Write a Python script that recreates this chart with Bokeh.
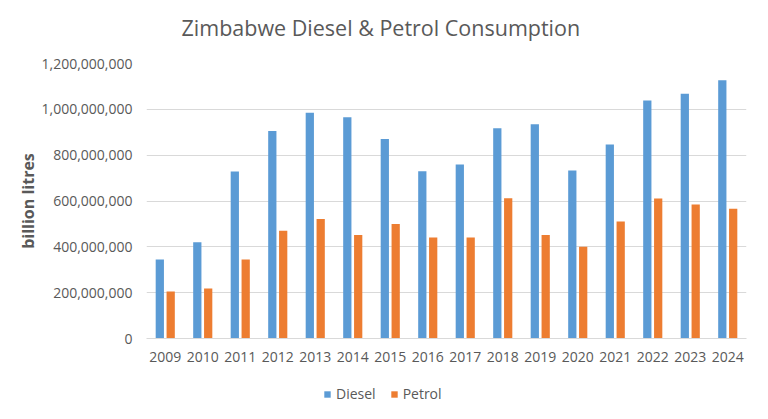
from bokeh.plotting import figure
from bokeh.layouts import column
from bokeh.models import ColumnDataSource, FactorRange, FixedTicker, NumeralTickFormatter, Legend, LegendItem, Range1d
from bokeh.transform import dodge
from bokeh.embed import file_html
from bokeh.resources import INLINE

years = ["2009", "2010", "2011", "2012", "2013", "2014", "2015", "2016",
         "2017", "2018", "2019", "2020", "2021", "2022", "2023", "2024"]
diesel = [345e6, 420e6, 729e6, 905e6, 985e6, 966e6, 871e6, 730e6,
          759e6, 918e6, 935e6, 733e6, 847e6, 1039e6, 1068e6, 1127e6]
petrol = [205e6, 218e6, 345e6, 470e6, 521e6, 452e6, 500e6, 441e6,
          441e6, 612e6, 452e6, 400e6, 511e6, 611e6, 585e6, 566e6]
y_ticks = [0, 200e6, 400e6, 600e6, 800e6, 1000e6, 1200e6]

FONT = "Open Sans"
GRAY = "#595959"
BLUE = "#5B9BD5"
ORANGE = "#ED7D31"


def strip(height, top=0):
    f = figure(width=752, height=height, output_backend="svg", toolbar_location=None,
               x_range=Range1d(0, 1), y_range=Range1d(0, 1),
               x_axis_location=None, y_axis_location=None,
               min_border_left=0, min_border_right=0, min_border_top=top, min_border_bottom=0)
    f.outline_line_color = None
    f.xgrid.grid_line_color = None
    f.ygrid.grid_line_color = None
    f.border_fill_color = "white"
    return f


# title strip
tf = strip(47, top=45)
tf.title.text = "Zimbabwe Diesel & Petrol Consumption"
tf.title.align = "left"
tf.title.offset = 35
tf.title.standoff = 8
tf.title.text_font = FONT
tf.title.text_font_size = "21.5px"
tf.title.text_font_style = "normal"
tf.title.text_color = GRAY

src = ColumnDataSource(dict(year=years, diesel=diesel, petrol=petrol))

p = figure(width=752, height=321, output_backend="svg", toolbar_location=None,
           x_range=FactorRange(*years), y_range=Range1d(0, 1.2e9),
           min_border_left=146, min_border_right=6, min_border_top=16, min_border_bottom=30)
p.outline_line_color = None
p.background_fill_color = "white"
p.border_fill_color = "white"

p.vbar(x=dodge("year", -0.145, range=p.x_range), top="diesel", width=0.22,
       source=src, fill_color=BLUE, line_color=None)
p.vbar(x=dodge("year", 0.145, range=p.x_range), top="petrol", width=0.22,
       source=src, fill_color=ORANGE, line_color=None)

p.yaxis.ticker = FixedTicker(ticks=y_ticks)
p.yaxis.formatter = NumeralTickFormatter(format="0,0")
p.yaxis.axis_line_color = None
p.yaxis.major_tick_line_color = None
p.yaxis.minor_tick_line_color = None
p.yaxis.major_label_standoff = 8
p.yaxis.major_label_text_font = FONT
p.yaxis.major_label_text_font_size = "14px"
p.yaxis.major_label_text_color = GRAY
p.yaxis.axis_label = "billion litres"
p.yaxis.axis_label_text_font = FONT
p.yaxis.axis_label_text_font_size = "16px"
p.yaxis.axis_label_text_font_style = "bold"
p.yaxis.axis_label_text_color = GRAY
p.yaxis.axis_label_standoff = 0

p.xaxis.axis_line_color = "#D9D9D9"
p.xaxis.major_tick_line_color = None
p.xaxis.minor_tick_line_color = None
p.xaxis.major_label_standoff = 7
p.xaxis.major_label_text_font = FONT
p.xaxis.major_label_text_font_size = "14px"
p.xaxis.major_label_text_color = GRAY

p.xgrid.grid_line_color = None
p.ygrid.grid_line_color = "#D9D9D9"

# legend strip
lf = strip(35)
ld = lf.vbar(x=[0.5], top=[0], bottom=[0], width=0.01, fill_color=BLUE, line_color=None)
lp = lf.vbar(x=[0.5], top=[0], bottom=[0], width=0.01, fill_color=ORANGE, line_color=None)
legend = Legend(items=[LegendItem(label="Diesel", renderers=[ld]),
                       LegendItem(label="Petrol", renderers=[lp])],
                orientation="horizontal", location=(177, 0),
                glyph_width=8, glyph_height=8, spacing=14,
                label_text_font=FONT, label_text_font_size="14px",
                label_text_color=GRAY, label_standoff=5,
                border_line_color=None, background_fill_alpha=0, padding=0, margin=0)
lf.add_layout(legend, "center")

layout = column(tf, p, lf, spacing=0)
open("out.html", "w").write(file_html(layout, INLINE))
